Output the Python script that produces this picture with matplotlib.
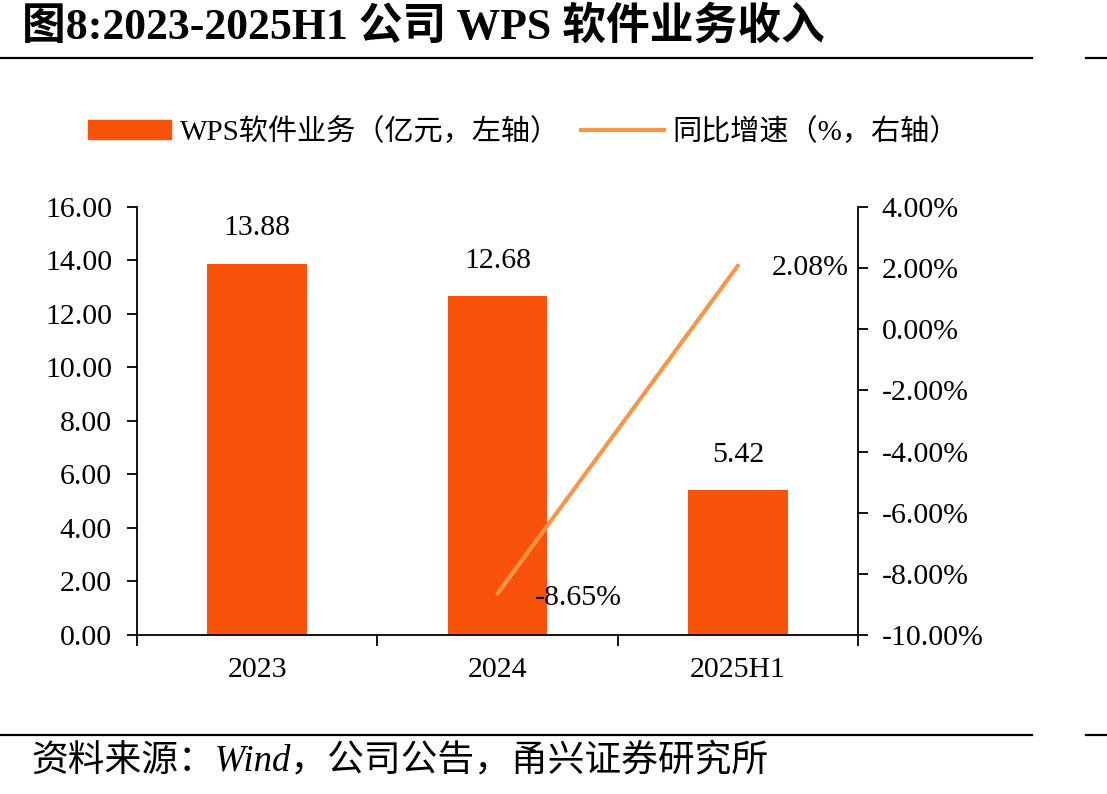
import matplotlib
matplotlib.use("Agg")
import matplotlib.pyplot as plt
from matplotlib.lines import Line2D
from matplotlib.patches import Patch

FONTS = ["Liberation Serif", "Noto Sans CJK SC", "DejaVu Sans"]
plt.rcParams["font.family"] = FONTS

# --- data ---------------------------------------------------------------
categories = ["2023", "2024", "2025H1"]
revenue = [13.88, 12.68, 5.42]          # 亿元, left axis
growth_x = ["2024", "2025H1"]
growth = [-8.65, 2.08]                   # %, right axis

BAR_COL = "#F9530B"
LINE_COL = "#F79646"
FS = 21.5

fig = plt.figure(figsize=(11.07, 7.94), dpi=100)
ax = fig.add_axes([0.1238, 0.2003, 0.6513, 0.539])

x = list(range(len(categories)))
ax.bar(x, revenue, width=0.415, color=BAR_COL, zorder=2)
ax.set_xlim(-0.5, len(categories) - 0.5)
ax.set_ylim(0, 16)
ax.set_yticks(range(0, 17, 2))
ax.set_yticklabels([f"{v:.2f}" for v in range(0, 17, 2)], fontsize=FS)
ax.set_xticks(x)
ax.set_xticklabels(categories, fontsize=FS)
ax.set_xticks([i - 0.5 for i in range(len(categories) + 1)], minor=True)
ax.tick_params(axis="x", which="major", length=0, pad=16)
ax.tick_params(axis="x", which="minor", length=8, width=1.3, direction="out")
ax.tick_params(axis="y", length=7, width=1.3, direction="out", pad=11)
for s in ("top", "right"):
    ax.spines[s].set_visible(False)
for s in ("left", "bottom"):
    ax.spines[s].set_linewidth(1.3)

for xi, v in zip(x, revenue):
    ax.annotate(f"{v:.2f}", (xi, v), xytext=(0, 16), textcoords="offset points",
                ha="center", va="bottom", fontsize=FS)

ax2 = ax.twinx()
gx = [categories.index(c) for c in growth_x]
ax2.plot(gx, growth, color=LINE_COL, linewidth=3, solid_capstyle="round", zorder=3)
ax2.set_ylim(-10, 4)
ax2.set_yticks(range(-10, 5, 2))
ax2.set_yticklabels([f"{v:.2f}%" for v in range(-10, 5, 2)], fontsize=FS)
ax2.tick_params(axis="y", length=7, width=1.3, direction="out", pad=10)
for s in ("top", "left", "bottom"):
    ax2.spines[s].set_visible(False)
ax2.spines["right"].set_linewidth(1.3)

ax2.annotate(f"{growth[0]:.2f}%", (gx[0], growth[0]), xytext=(27, -3),
             textcoords="offset points", ha="left", va="center", fontsize=FS)
ax2.annotate(f"{growth[1]:.2f}%", (gx[1], growth[1]), xytext=(24.5, -2),
             textcoords="offset points", ha="left", va="center", fontsize=FS)

# legend
handles = [
    Patch(color=BAR_COL, label="WPS软件业务（亿元，左轴）"),
    Line2D([0], [0], color=LINE_COL, linewidth=3, label="同比增速（%，右轴）"),
]
fig.legend(handles=handles, loc="center", bbox_to_anchor=(0.473, 0.834), ncol=2,
           frameon=False, fontsize=21, handlelength=2.85, handleheight=0.6,
           columnspacing=0.7, handletextpad=0.3)

# title & rules
fig.text(0.02, 0.966, "图8:2023-2025H1 公司 WPS 软件业务收入", fontsize=31.5,
         fontweight="bold", ha="left", va="center", family=FONTS)
for y in (0.927, 0.074):
    fig.add_artist(Line2D([0, 0.932], [y, y], color="black", linewidth=1.6))
    fig.add_artist(Line2D([0.981, 1.0], [y, y], color="black", linewidth=1.6))
fig.text(0.028, 0.042, "资料来源：Wind，公司公告，甬兴证券研究所", fontsize=26.5,
         style="italic", ha="left", va="center", family=FONTS)

fig.savefig("out.png", dpi=100)
